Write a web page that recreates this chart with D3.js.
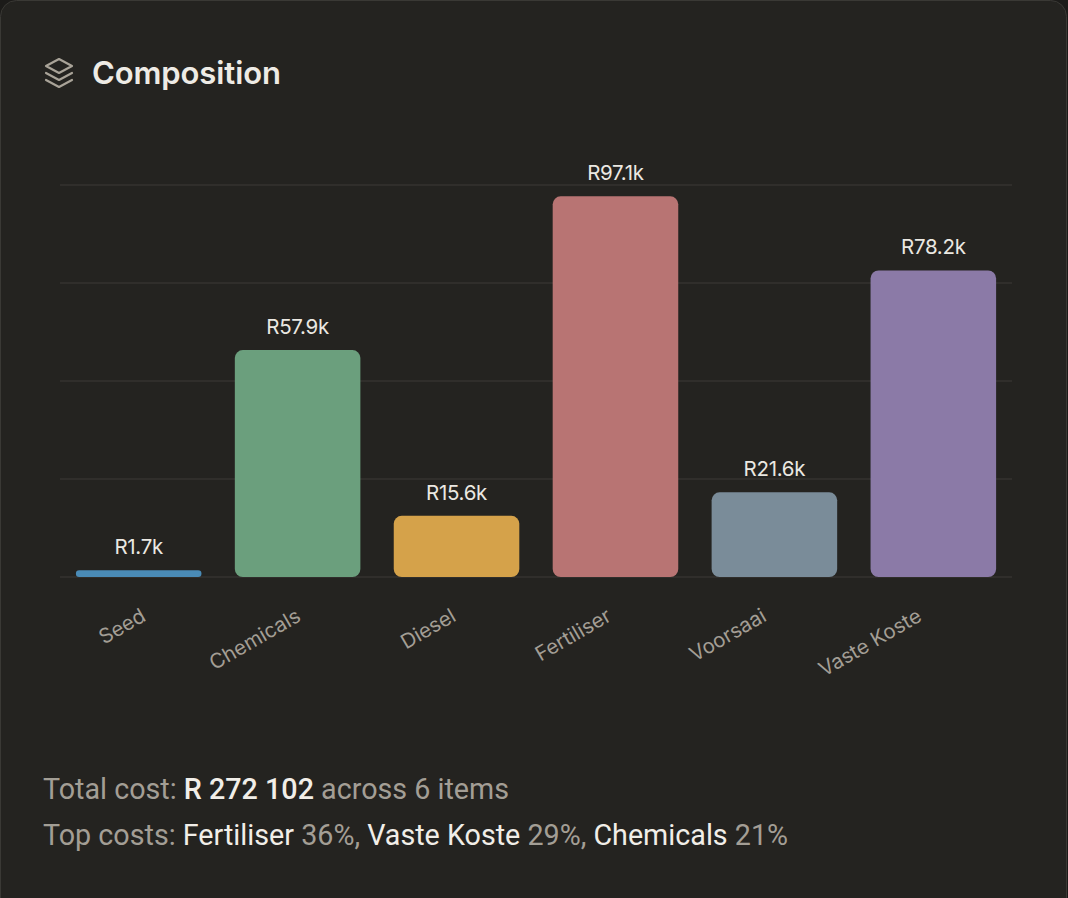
<!DOCTYPE html>
<html>
<head>
<meta charset="utf-8">
<script src="https://cdn.jsdelivr.net/npm/d3@7"></script>
<style>
  html, body { margin: 0; padding: 0; background: #1c1b19; }
  svg { display: block; }
</style>
</head>
<body>
<div id="chart"></div>
<script>
// values (Rand)
var categories = ["Seed", "Chemicals", "Diesel", "Fertiliser", "Voorsaai", "Vaste Koste"];
var costs = [1700, 57900, 15600, 97100, 21600, 78200];
var barColors = ["#4a8bb6", "#6b9f7d", "#d5a24a", "#b87473", "#7a8c99", "#8b7aa7"];
var yTicks = [0, 25000, 50000, 75000, 100000];
var totalCost = 272102;

var width = 1068, height = 898;
var margin = { top: 185, right: 56, bottom: 321, left: 60 };
var font = "Inter, 'Liberation Sans', sans-serif";

var svg = d3.select('#chart')
  .append('svg')
  .attr('width', width)
  .attr('height', height);

// card
svg.append('rect')
  .attr('x', 0.5).attr('y', 0.5)
  .attr('width', 1066).attr('height', 940)
  .attr('rx', 16)
  .attr('fill', '#242320')
  .attr('stroke', '#3a3935');

// header icon (stacked layers)
var icon = svg.append('g')
  .attr('transform', 'translate(44,58)')
  .attr('fill', 'none')
  .attr('stroke', '#a9a398')
  .attr('stroke-width', 2.2)
  .attr('stroke-linejoin', 'round')
  .attr('stroke-linecap', 'round');
icon.append('path').attr('d', 'M15 1 L28 8 L15 15 L2 8 Z');
icon.append('path').attr('d', 'M2 15 L15 22 L28 15');
icon.append('path').attr('d', 'M2 22 L15 29 L28 22');

svg.append('text')
  .attr('x', 92).attr('y', 84)
  .attr('fill', '#eeebe5')
  .style('font', "600 31px " + font)
  .style('letter-spacing', '-0.1px')
  .text('Composition');

var x = d3.scaleBand()
  .domain(categories)
  .range([margin.left, width - margin.right])
  .paddingInner(0.21)
  .paddingOuter(0.1);

// tick label anchors sit on a slightly tighter spacing than the bars
var xLabel = d3.scalePoint()
  .domain(categories)
  .range([147, 923]);

var y = d3.scaleLinear()
  .domain([0, 100000])
  .range([height - margin.bottom, margin.top]);

// grid
svg.append('g')
  .selectAll('line')
  .data(yTicks)
  .enter()
  .append('line')
  .attr('x1', margin.left)
  .attr('x2', width - margin.right)
  .attr('y1', (d) => y(d))
  .attr('y2', (d) => y(d))
  .attr('stroke', '#34332f')
  .attr('stroke-width', 1.5);

var rows = categories.map((c, i) => ({ name: c, value: costs[i], color: barColors[i] }));

svg.append('g')
  .selectAll('rect')
  .data(rows)
  .enter()
  .append('rect')
  .attr('x', (d) => x(d.name))
  .attr('y', (d) => y(d.value))
  .attr('width', x.bandwidth())
  .attr('height', (d) => y(0) - y(d.value))
  .attr('rx', (d) => Math.min(8, (y(0) - y(d.value)) / 2))
  .attr('fill', (d) => d.color);

// value labels
svg.append('g')
  .selectAll('text')
  .data(rows)
  .enter()
  .append('text')
  .attr('x', (d) => x(d.name) + x.bandwidth() / 2)
  .attr('y', (d) => y(d.value) - 16)
  .attr('text-anchor', 'middle')
  .attr('fill', '#ebe8e2')
  .style('font', "20.5px " + font)
  .style('letter-spacing', '-0.3px')
  .text((d) => 'R' + (d.value / 1000).toFixed(1) + 'k');

// category labels, rotated
svg.append('g')
  .selectAll('text')
  .data(categories)
  .enter()
  .append('text')
  .attr('transform', (d) => 'translate(' + xLabel(d) + ',620) rotate(-30)')
  .attr('text-anchor', 'end')
  .attr('fill', '#a39e95')
  .style('font', "20.5px " + font)
  .text((d) => d);

// footer summary
var fmt = (n) => d3.format(',')(n).replace(/,/g, ' ');
var ranked = rows.slice().sort((a, b) => b.value - a.value).slice(0, 3);
var sum = d3.sum(costs);
var footFont = "28.7px Roboto, 'Liberation Sans', sans-serif";

var line1 = svg.append('text')
  .attr('x', 43).attr('y', 799)
  .style('font', footFont)
  .attr('fill', '#a39e95');
line1.append('tspan').text('Total cost: ');
line1.append('tspan').attr('fill', '#f1eee8').style('font-weight', 500).text('R ' + fmt(totalCost));
line1.append('tspan').text(' across ' + categories.length + ' items');

var line2 = svg.append('text')
  .attr('x', 43).attr('y', 845)
  .style('font', footFont)
  .attr('fill', '#a39e95');
line2.append('tspan').text('Top costs: ');
ranked.forEach(function (d, i) {
  line2.append('tspan').attr('fill', '#f1eee8').text(d.name);
  line2.append('tspan').text(' ' + Math.round(d.value / sum * 100) + '%' + (i < ranked.length - 1 ? ', ' : ''));
});
</script>
</body>
</html>
